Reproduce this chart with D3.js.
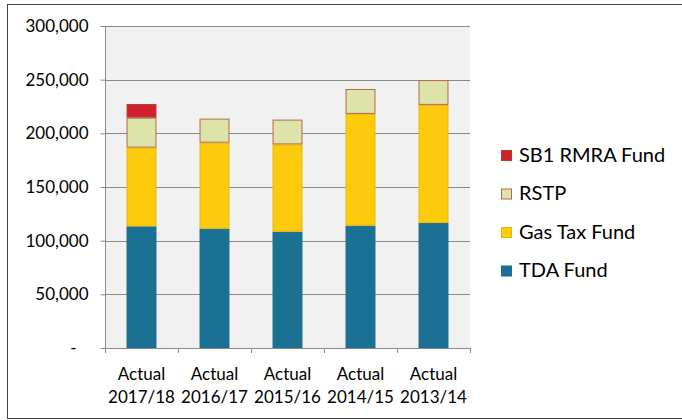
<!DOCTYPE html>
<html><head><meta charset="utf-8">
<script src="https://cdn.jsdelivr.net/npm/d3@7"></script>
<style>
html,body{margin:0;padding:0;background:#fff;}
text{font-family:Lato,"Open Sans",sans-serif;fill:#000;}
</style></head>
<body><svg id="c" width="682" height="420"></svg>
<script>
const categories = ["Actual 2017/18","Actual 2016/17","Actual 2015/16","Actual 2014/15","Actual 2013/14"];
const tdaFund   = [113300, 111200, 108400, 114000, 116400];
const gasTax    = [73400, 80100, 81300, 104100, 110100];
const rstp      = [27900, 22400, 23100, 23200, 23100];
const sb1Rmra   = [12700, 0, 0, 0, 0];
const seriesNames = ["TDA Fund","Gas Tax Fund","RSTP","SB1 RMRA Fund"];
const seriesColors = ["#1b7194","#fdcb0b","#dce4a9","#d3202e"];
const seriesStrokes = ["#1b6a8a","#e8b800","#b8684a","#a8462e"];
const yTicks = [0,50000,100000,150000,200000,250000,300000];

const svg = d3.select("#c");
// outer frame
svg.append("rect").attr("x",7.5).attr("y",4.5).attr("width",700).attr("height",414)
  .attr("fill","none").attr("stroke","#444").attr("stroke-width",1);

const x = d3.scaleBand().domain(categories).range([105,470]).paddingInner(0.59).paddingOuter(0.295);
const y = d3.scaleLinear().domain([0,300000]).range([348,26]);

// plot background
svg.append("rect").attr("x",105).attr("y",26).attr("width",365).attr("height",322).attr("fill","#f1f1f1");

// gridlines
svg.append("g").selectAll("line").data(yTicks.slice(1)).join("line")
  .attr("x1",105).attr("x2",470).attr("y1",d=>Math.round(y(d))+0.5).attr("y2",d=>Math.round(y(d))+0.5)
  .attr("stroke","#8a8a8a").attr("stroke-width",1);

// stacked data
const rows = categories.map((c,i)=>({cat:c, "TDA Fund":tdaFund[i], "Gas Tax Fund":gasTax[i], "RSTP":rstp[i], "SB1 RMRA Fund":sb1Rmra[i]}));
const stack = d3.stack().keys(seriesNames)(rows);
svg.append("g").selectAll("g").data(stack).join("g")
  .attr("fill",(d,i)=>seriesColors[i]).attr("stroke",(d,i)=>seriesStrokes[i])
  .selectAll("rect").data(d=>d.filter(p=>p[1]-p[0]>0)).join("rect")
  .attr("x",d=>x(d.data.cat)+0.5).attr("width",x.bandwidth()-1)
  .attr("y",d=>y(d[1])+0.5).attr("height",d=>y(d[0])-y(d[1])-1)
  .attr("stroke-width",1);

// y axis
const yAxis = d3.axisLeft(y).tickValues(yTicks).tickSize(5).tickPadding(12)
  .tickFormat(d=> d===0 ? "-" : d3.format(",")(d));
const ya = svg.append("g").attr("transform","translate(105.5,0)").call(yAxis);
ya.select(".domain").attr("stroke","#8a8a8a").attr("d","M0,26V348");
ya.selectAll(".tick line").attr("stroke","#8a8a8a");
ya.selectAll(".tick text").style("font-size","17px").attr("fill","#000")
  .attr("dx",d=>d===0?-12:0);

// x axis
const step = x.step();
const bounds = categories.map(c=>x(c)-step*x.paddingInner()/2).concat([470]);
svg.append("line").attr("x1",105).attr("x2",470).attr("y1",348.5).attr("y2",348.5).attr("stroke","#8a8a8a");
svg.append("g").selectAll("line").data(bounds).join("line")
  .attr("x1",d=>Math.round(d)+0.5).attr("x2",d=>Math.round(d)+0.5).attr("y1",348).attr("y2",353)
  .attr("stroke","#8a8a8a");
const xl = svg.append("g").selectAll("text").data(categories).join("text")
  .attr("text-anchor","middle").style("font-size","17px")
  .attr("x",d=>x(d)+x.bandwidth()/2);
xl.append("tspan").attr("x",d=>x(d)+x.bandwidth()/2).attr("y",380).text(d=>d.split(" ")[0]);
xl.append("tspan").attr("x",d=>x(d)+x.bandwidth()/2).attr("y",403).text(d=>d.split(" ")[1]);

// legend (reverse order)
const legendOrder = [3,2,1,0];
const lg = svg.append("g").selectAll("g").data(legendOrder).join("g")
  .attr("transform",(d,i)=>`translate(501,${150+i*38.5})`);
lg.append("rect").attr("x",0.5).attr("y",0.5).attr("width",10).attr("height",10)
  .attr("fill",d=>seriesColors[d]).attr("stroke",d=>seriesStrokes[d]);
lg.append("text").attr("x",18).attr("y",11.5).style("font-size","20px").text(d=>seriesNames[d]);
</script></body></html>
